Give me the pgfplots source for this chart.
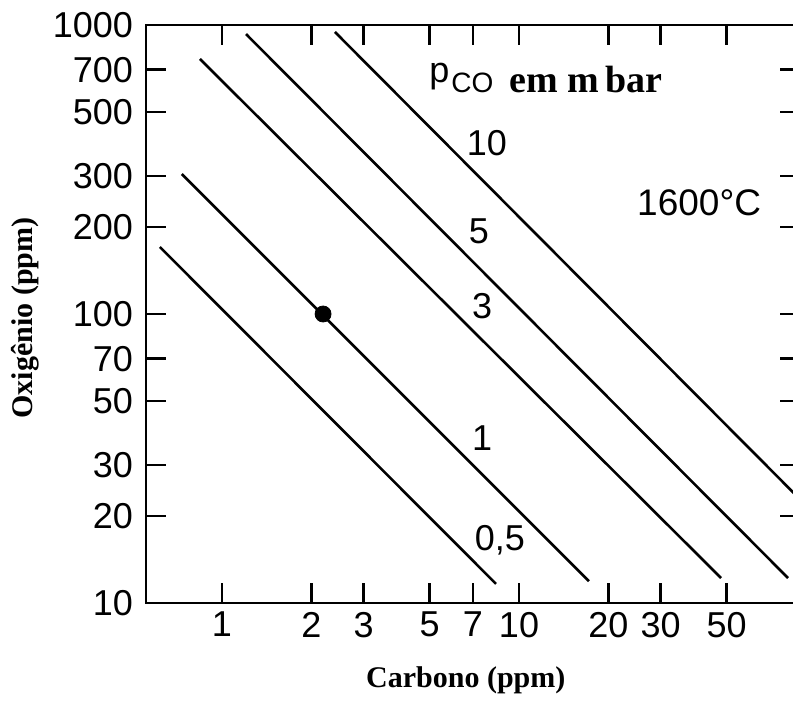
\documentclass[border=0pt]{standalone}
\usepackage{fontspec}
\setmainfont{Liberation Sans}
\newfontfamily\tnr{Liberation Serif}
\usepackage{pgfplots}
\pgfplotsset{compat=1.18}
\begin{document}
\begin{tikzpicture}
\useasboundingbox (-73pt,-49.5pt) rectangle (323.5pt,301.5pt);
\clip (-73pt,-49.5pt) rectangle (323.5pt,301.5pt);
\begin{axis}[
  at={(0,0)}, anchor=south west,
  scale only axis, width=327pt, height=289pt,
  xmode=log, ymode=log,
  xmin=0.555, xmax=88.3, ymin=10, ymax=1000,
  xtick={1,2,3,5,7,10,20,30,50},
  xticklabels={1,2,3,5,7,10,20,30,50},
  ytick={10,20,30,50,70,100,200,300,500,700,1000},
  yticklabels={10,20,30,50,70,100,200,300,500,700,1000},
  minor xtick={}, minor ytick={},
  tick align=inside, tick pos=both, major tick length=10pt,
  every tick/.style={black, line width=1.3pt},
  axis line style={line width=1.4pt},
  ticklabel style={font=\fontsize{18}{18}\selectfont},
  xticklabel style={yshift=-1pt},
  yticklabel style={xshift=-3pt},
  xlabel={\tnr\bfseries Carbono (ppm)},
  xlabel style={font=\fontsize{15}{15}\selectfont, anchor=base, at={(axis description cs:0.489,0)}, yshift=-42.5pt},
  ylabel={\tnr\bfseries Oxigênio (ppm)},
  ylabel style={font=\fontsize{15}{15}\selectfont, anchor=center, at={(axis description cs:-0.185,0.493)}},
  clip=true,
]
\addplot[black, line width=1.3pt] coordinates {(0.618,170.6) (8.37,11.64)};
\addplot[black, line width=1.3pt] coordinates {(0.733,305) (17.2,11.9)};
\addplot[black, line width=1.3pt] coordinates {(0.843,762.8) (47.9,12.2)};
\addplot[black, line width=1.3pt] coordinates {(1.205,930) (80.5,12.2)};
\addplot[black, line width=1.3pt] coordinates {(2.40,946) (100,20.1)};
\addplot[only marks, mark=*, mark size=4pt, black] coordinates {(2.19,100)};
\node[font=\fontsize{18}{18}\selectfont] at (axis cs:7.80,391) {10};
\node[font=\fontsize{18}{18}\selectfont] at (axis cs:7.33,193.8) {5};
\node[font=\fontsize{18}{18}\selectfont] at (axis cs:7.51,106.6) {3};
\node[font=\fontsize{18}{18}\selectfont] at (axis cs:7.51,37.2) {1};
\node[font=\fontsize{18}{18}\selectfont] at (axis cs:8.63,16.5) {0,5};
\node[font=\fontsize{18.5}{18.5}\selectfont] at (axis cs:40.4,242) {1600°C};
\node[anchor=base west, inner sep=0pt] at (axis cs:4.98,582) {\raisebox{5pt}{\fontsize{18}{18}\selectfont p}\hspace{1pt}\fontsize{14}{14}\selectfont CO\hspace{8pt}{\tnr\bfseries\fontsize{19}{19}\selectfont em m\,bar}};
\end{axis}
\end{tikzpicture}
\end{document}
